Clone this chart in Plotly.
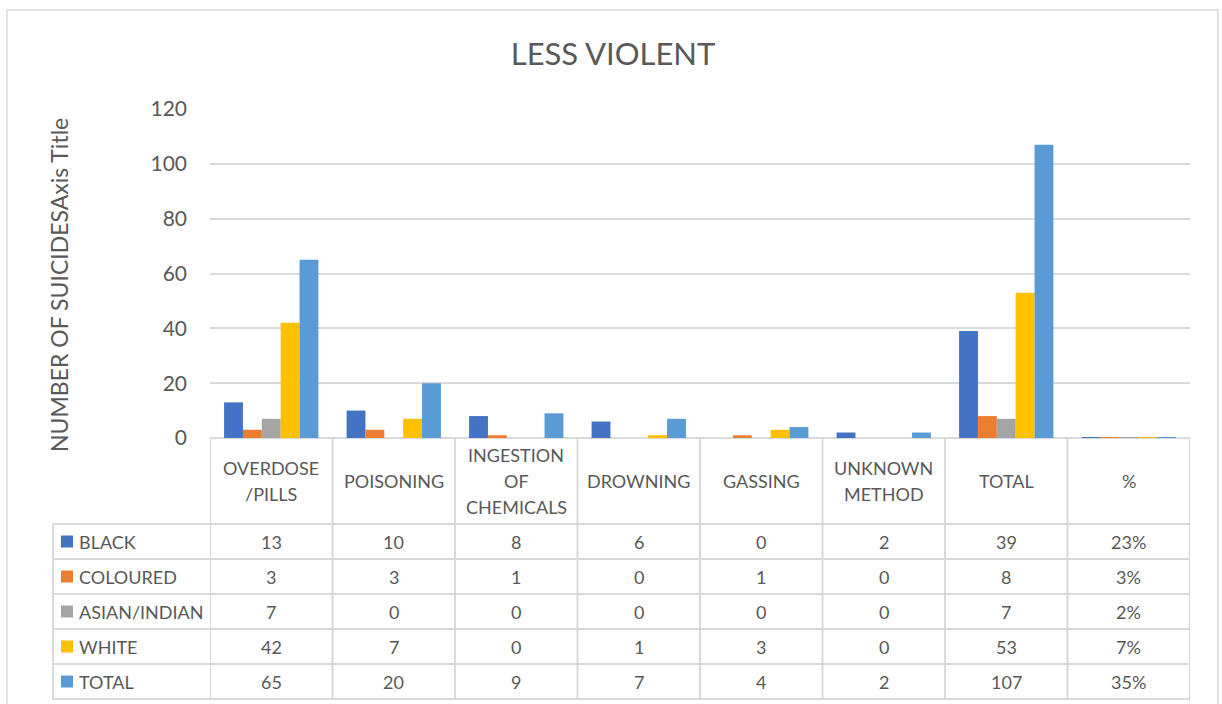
import plotly.graph_objects as go

# ---------------- data ----------------
categories = ["OVERDOSE<br>/PILLS", "POISONING", "INGESTION<br>OF<br>CHEMICALS",
              "DROWNING", "GASSING", "UNKNOWN<br>METHOD", "TOTAL", "%"]
series_names = ["BLACK", "COLOURED", "ASIAN/INDIAN", "WHITE", "TOTAL"]
black = [13, 10, 8, 6, 0, 2, 39, 0.23]
coloured = [3, 3, 1, 0, 1, 0, 8, 0.03]
asian_indian = [7, 0, 0, 0, 0, 0, 7, 0.02]
white = [42, 7, 0, 1, 3, 0, 53, 0.07]
total = [65, 20, 9, 7, 4, 2, 107, 0.35]
series_values = [black, coloured, asian_indian, white, total]
colors = ["#4472C4", "#ED7D31", "#A5A5A5", "#FFC000", "#5B9BD5"]
y_ticks = [0, 20, 40, 60, 80, 100, 120]

# ---------------- layout constants ----------------
W, H = 1222, 704
FONT = "Lato"
TXT = "#595959"
GRID = "#d9d9d9"
X0, X1 = 210, 1190          # plot area left/right (px)
Y_TOP, Y_ZERO = 109, 438    # y=120 and y=0 (px)
HEADER_BOTTOM = 524
ROW_H = 35
TABLE_LEFT = 53


def px_x(p):
    return p / W


def px_y(p):
    return 1 - p / H


fig = go.Figure()
for name, vals, col in zip(series_names, series_values, colors):
    fig.add_trace(go.Bar(name=name, x=categories, y=vals, marker_color=col,
                         marker_line_width=0, showlegend=False))

shapes = []
annotations = []

# outer chart border
shapes.append(dict(type="rect", xref="paper", yref="paper",
                   x0=px_x(7), x1=px_x(1218), y0=-0.02, y1=px_y(10),
                   line=dict(color=GRID, width=1.5), layer="below"))

n = len(categories)
table_bottom = HEADER_BOTTOM + ROW_H * len(series_names)
# vertical table lines at category boundaries
for i in range(n + 1):
    shapes.append(dict(type="line", xref="x", yref="paper",
                       x0=i - 0.5, x1=i - 0.5,
                       y0=px_y(Y_ZERO), y1=px_y(table_bottom),
                       line=dict(color=GRID, width=2)))
# left edge of the legend column
shapes.append(dict(type="line", xref="paper", yref="paper",
                   x0=px_x(TABLE_LEFT), x1=px_x(TABLE_LEFT),
                   y0=px_y(HEADER_BOTTOM), y1=px_y(table_bottom),
                   line=dict(color=GRID, width=2)))
# horizontal table lines
for r in range(len(series_names) + 1):
    yy = px_y(HEADER_BOTTOM + ROW_H * r)
    shapes.append(dict(type="line", xref="paper", yref="paper",
                       x0=px_x(TABLE_LEFT), x1=px_x(X1), y0=yy, y1=yy,
                       line=dict(color=GRID, width=2)))

# header labels (one annotation per line for Excel-like line spacing)
header_mid = (Y_ZERO + HEADER_BOTTOM) / 2
line_gap = 26
for cat in categories:
    lines = cat.split("<br>")
    start = header_mid - line_gap * (len(lines) - 1) / 2
    for k, ln in enumerate(lines):
        annotations.append(dict(xref="x", yref="paper", x=cat, y=px_y(start + k * line_gap),
                                text=ln, showarrow=False, xanchor="center", yanchor="middle",
                                font=dict(family=FONT, size=18, color=TXT)))


def fmt(cat, v):
    if cat == "%":
        return f"{round(v * 100)}%"
    return f"{v:g}"


# data rows with legend keys
for r, (name, vals, col) in enumerate(zip(series_names, series_values, colors)):
    cy = HEADER_BOTTOM + ROW_H * r + ROW_H / 2
    shapes.append(dict(type="rect", xref="paper", yref="paper",
                       x0=px_x(61), x1=px_x(73), y0=px_y(cy + 6), y1=px_y(cy - 6),
                       fillcolor=col, line=dict(width=0)))
    annotations.append(dict(xref="paper", yref="paper", x=px_x(77), y=px_y(cy),
                            text=name, showarrow=False, xanchor="left", yanchor="middle",
                            font=dict(family=FONT, size=18, color=TXT)))
    for cat, v in zip(categories, vals):
        annotations.append(dict(xref="x", yref="paper", x=cat, y=px_y(cy),
                                text=fmt(cat, v), showarrow=False,
                                xanchor="center", yanchor="middle",
                                font=dict(family=FONT, size=18, color=TXT)))

# y-axis title (Excel-style, placed as rotated text)
annotations.append(dict(xref="paper", yref="paper", x=px_x(59), y=px_y(285),
                        text="NUMBER OF SUICIDESAxis Title", textangle=-90,
                        showarrow=False, xanchor="center", yanchor="middle",
                        font=dict(family=FONT, size=23, color=TXT)))

fig.update_layout(
    width=W, height=H,
    margin=dict(l=0, r=0, t=0, b=0, autoexpand=False),
    paper_bgcolor="white", plot_bgcolor="white",
    barmode="group", bargap=0.23, bargroupgap=0,
    title=dict(text="LESS VIOLENT", x=px_x(613), xanchor="center",
               y=px_y(54), yanchor="middle", automargin=False,
               font=dict(family=FONT, size=31, color=TXT)),
    xaxis=dict(domain=[px_x(X0), px_x(X1)], range=[-0.5, n - 0.5], automargin=False,
               showticklabels=False, showgrid=False, zeroline=False,
               showline=False, ticks=""),
    yaxis=dict(domain=[px_y(Y_ZERO), px_y(Y_TOP)], range=[0, 120], automargin=False,
               tickvals=y_ticks, showgrid=True, gridcolor=GRID, gridwidth=1.5,
               zeroline=True, zerolinecolor=GRID, zerolinewidth=1.5,
               showline=False, ticks="", ticklabelstandoff=22,
               tickfont=dict(family=FONT, size=21, color=TXT)),
    shapes=shapes,
    annotations=annotations,
)

fig.write_html("out.html")
